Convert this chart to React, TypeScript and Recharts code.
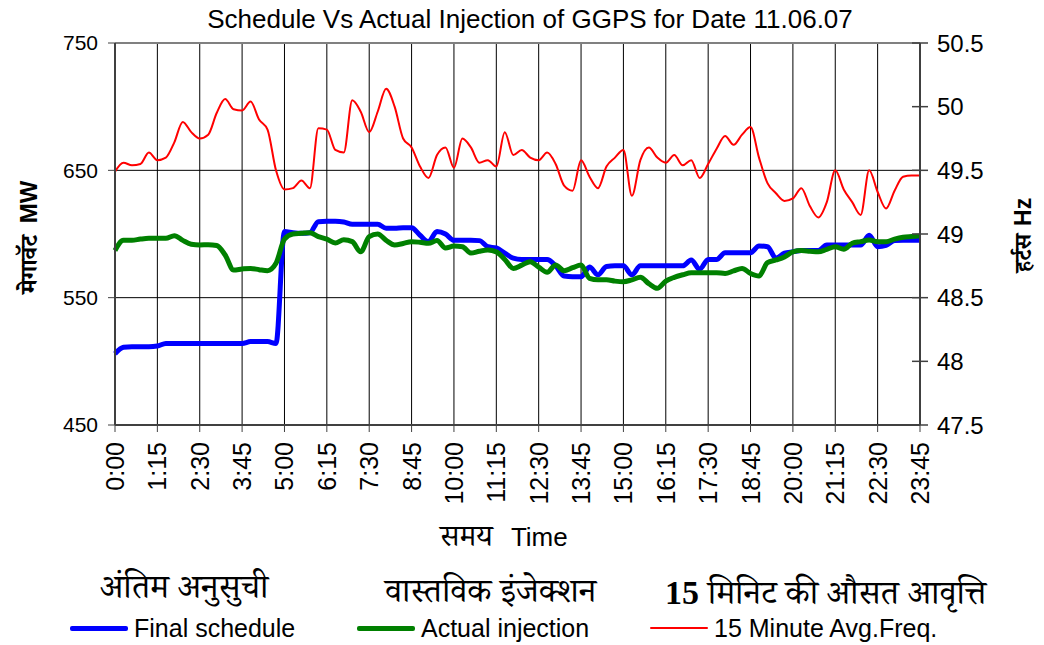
import { LineChart, Line, XAxis, YAxis, CartesianGrid, ReferenceLine } from 'recharts';

// 15-minute blocks, 0:00 .. 23:45
const TIMES: string[] = [];
for (let i = 0; i < 96; i++) {
  TIMES.push(`${Math.floor(i / 4)}:${String((i % 4) * 15).padStart(2, '0')}`);
}

const TICK_LABELS = [
  '0:00', '1:15', '2:30', '3:45', '5:00', '6:15', '7:30', '8:45', '10:00', '11:15',
  '12:30', '13:45', '15:00', '16:15', '17:30', '18:45', '20:00', '21:15', '22:30', '23:45',
];

const MW_TICKS = [450, 550, 650, 750];
const HZ_TICKS = [47.5, 48, 48.5, 49, 49.5, 50, 50.5];

const FINAL_SCHEDULE = [
  506, 511, 511.5, 511.5, 511.5, 512, 514, 514, 514, 514,
  514, 514, 514, 514, 514, 514, 515.5, 515.5, 515.5, 514,
  602, 601, 600.5, 601, 609.7, 610, 610, 609.5, 607.6, 607.6,
  607.6, 607.6, 604.5, 604.5, 605, 605, 599, 594, 602, 600,
  595, 595, 595, 594.8, 590, 589, 585, 581, 580, 580,
  580, 580, 575, 567, 566.5, 566.5, 574, 568, 574.5, 575,
  575, 568, 575, 575, 575, 575, 575, 575, 579.6, 572.3,
  580, 580, 585.3, 585.3, 585.3, 585.3, 590.6, 590, 581, 585,
  586, 587, 587, 587, 591.3, 591.3, 591.3, 591.3, 591.3, 599,
  590, 591, 594.8, 595, 595, 595,
];

const ACTUAL_INJECTION = [
  587, 595, 595, 596, 596.6, 596.6, 596.6, 598.7, 595, 592,
  591.4, 591.6, 591, 583.5, 571.7, 572.5, 573, 572, 571.2, 577,
  596, 600, 600.5, 601, 598, 596, 593, 595.5, 594, 586,
  598, 600, 595, 591.4, 592.5, 594, 593.5, 592.7, 594.8, 589,
  590.5, 590, 585, 586.5, 587.4, 586, 580, 573, 575.5, 578.3,
  574, 570, 575.6, 571.2, 573.5, 575.6, 565.2, 564, 564, 563,
  562.5, 564, 566, 561, 557.3, 563, 566, 568, 569.6, 569.6,
  569.6, 569.6, 569, 571, 573, 569, 567, 577.5, 579.6, 582,
  586, 587, 586.5, 586, 588, 590, 588, 592.7, 594, 595.3,
  594, 594, 596, 597.4, 598, 598.5,
];

const AVG_FREQ = [
  49.49, 49.56, 49.54, 49.55, 49.64, 49.58, 49.6, 49.72, 49.88, 49.8,
  49.75, 49.78, 49.95, 50.06, 49.98, 49.97, 50.04, 49.9, 49.82, 49.5,
  49.35, 49.36, 49.42, 49.36, 49.83, 49.82, 49.66, 49.64, 50.05, 49.96,
  49.8, 49.96, 50.14, 50.0, 49.75, 49.68, 49.53, 49.44, 49.62, 49.68,
  49.52, 49.75, 49.68, 49.56, 49.58, 49.53, 49.8, 49.62, 49.66, 49.6,
  49.58, 49.64, 49.55, 49.38, 49.34, 49.58, 49.45, 49.36, 49.53, 49.6,
  49.66, 49.3, 49.58, 49.68, 49.6, 49.56, 49.62, 49.54, 49.58, 49.44,
  49.55, 49.67, 49.77, 49.7, 49.78, 49.84, 49.6, 49.4, 49.32, 49.26,
  49.28, 49.36, 49.22, 49.13, 49.25, 49.5, 49.35, 49.25, 49.15, 49.5,
  49.33, 49.2, 49.34, 49.45, 49.46, 49.46,
];

const data = TIMES.map((time, i) => ({
  time,
  schedule: FINAL_SCHEDULE[i],
  actual: ACTUAL_INJECTION[i],
  freq: AVG_FREQ[i],
}));

const SANS = '"Liberation Sans", Arial, sans-serif';
const DEVA = '"Noto Serif Devanagari", "Noto Sans Devanagari", "Lohit Devanagari", serif';
const AXIS = '#404040';

function TimeTick({ x, y, payload }: any) {
  return (
    <text
      transform={`translate(${x},${y + 8}) rotate(-90)`}
      textAnchor="end"
      dominantBaseline="central"
      fontSize={25}
      fontFamily={SANS}
      fill="#000"
    >
      {payload.value}
    </text>
  );
}

function HzTick({ x, y, payload }: any) {
  return (
    <g>
      <line x1={x - 8} x2={x + 8} y1={y} y2={y} stroke={AXIS} strokeWidth={1.5} />
      <text x={x + 17} y={y} dominantBaseline="central" fontSize={24} fontFamily={SANS} fill="#000">
        {payload.value}
      </text>
    </g>
  );
}

function LegendItem({ color, width, label, left }: { color: string; width: number; label: string; left: number }) {
  return (
    <div style={{ position: 'absolute', left, top: 614, height: 28, display: 'flex', alignItems: 'center' }}>
      <div style={{ width: 58, height: width, background: color, borderRadius: 2, marginRight: 6 }} />
      <span style={{ fontSize: 25, lineHeight: '28px', fontFamily: SANS }}>{label}</span>
    </div>
  );
}

const devaRow = { position: 'absolute' as const, fontSize: 34, lineHeight: '34px', fontFamily: DEVA };

export default function App() {
  return (
    <div style={{ position: 'absolute', left: 0, top: 0, width: 1044, height: 645, background: '#fff' }}>
      <div
        style={{
          position: 'absolute', left: 0, top: 4, width: 1060, textAlign: 'center',
          fontSize: 26, lineHeight: '30px', fontFamily: SANS,
        }}
      >
        Schedule Vs Actual Injection of GGPS for Date 11.06.07
      </div>

      <LineChart width={1044} height={645} data={data} margin={{ top: 43, right: 0, left: 0, bottom: 100 }}>
        <CartesianGrid yAxisId="mw" stroke="#000" strokeWidth={1} />
        <XAxis
          dataKey="time"
          ticks={TICK_LABELS}
          interval={0}
          height={120}
          tick={<TimeTick />}
          tickSize={7}
          stroke={AXIS}
          axisLine={{ stroke: AXIS, strokeWidth: 2 }}
        />
        <YAxis
          yAxisId="mw"
          domain={[450, 750]}
          ticks={MW_TICKS}
          width={115}
          tickSize={7}
          tickMargin={10}
          stroke={AXIS}
          axisLine={{ stroke: AXIS, strokeWidth: 2 }}
          tick={{ fontSize: 21, fill: '#000', fontFamily: SANS }}
        />
        <YAxis
          yAxisId="hz"
          orientation="right"
          domain={[47.5, 50.5]}
          ticks={HZ_TICKS}
          width={124}
          tickSize={0}
          tickMargin={0}
          tickLine={false}
          axisLine={{ stroke: AXIS, strokeWidth: 2 }}
          tick={<HzTick />}
        />
        <ReferenceLine yAxisId="mw" y={750} stroke="#808080" strokeWidth={2} />
        <Line
          yAxisId="hz"
          type="monotone"
          dataKey="freq"
          stroke="#ff0000"
          strokeWidth={2}
          dot={false}
          isAnimationActive={false}
        />
        <Line
          yAxisId="mw"
          type="monotone"
          dataKey="schedule"
          stroke="#0000ff"
          strokeWidth={5}
          dot={false}
          isAnimationActive={false}
        />
        <Line
          yAxisId="mw"
          type="monotone"
          dataKey="actual"
          stroke="#008000"
          strokeWidth={5}
          dot={false}
          isAnimationActive={false}
        />
      </LineChart>

      {/* axis titles */}
      <svg width={1044} height={645} style={{ position: 'absolute', left: 0, top: 0, pointerEvents: 'none' }}>
        <text
          transform="translate(37,237) rotate(-90)"
          textAnchor="middle"
          fontSize={24}
          fontWeight="bold"
          fontFamily={SANS}
        >
          <tspan fontFamily={DEVA}>मेगावॅट</tspan>
          <tspan dx={12}>MW</tspan>
        </text>
        <text
          transform="translate(1031,235) rotate(-90)"
          textAnchor="middle"
          fontSize={23}
          fontWeight="bold"
          fontFamily={SANS}
        >
          <tspan fontFamily={DEVA}>हर्टस</tspan>
          <tspan dx={8}>Hz</tspan>
        </text>
      </svg>

      <div style={{ position: 'absolute', left: 440, top: 518, display: 'flex', alignItems: 'baseline' }}>
        <span style={{ fontSize: 30, fontFamily: DEVA }}>समय</span>
        <span style={{ fontSize: 26, fontFamily: SANS, marginLeft: 18 }}>Time</span>
      </div>

      <div style={{ ...devaRow, left: 100, top: 576 }}>अंतिम अनुसुची</div>
      <div style={{ ...devaRow, left: 385, top: 580 }}>वास्तविक इंजेक्शन</div>
      <div style={{ ...devaRow, left: 665, top: 576 }}>
        <b style={{ fontFamily: '"Liberation Serif", serif' }}>15</b> मिनिट की औसत आवृत्ति
      </div>

      <LegendItem color="#0000ff" width={5} label="Final schedule" left={70} />
      <LegendItem color="#008000" width={5} label="Actual injection" left={357} />
      <LegendItem color="#ff0000" width={2} label="15 Minute Avg.Freq." left={650} />
    </div>
  );
}
